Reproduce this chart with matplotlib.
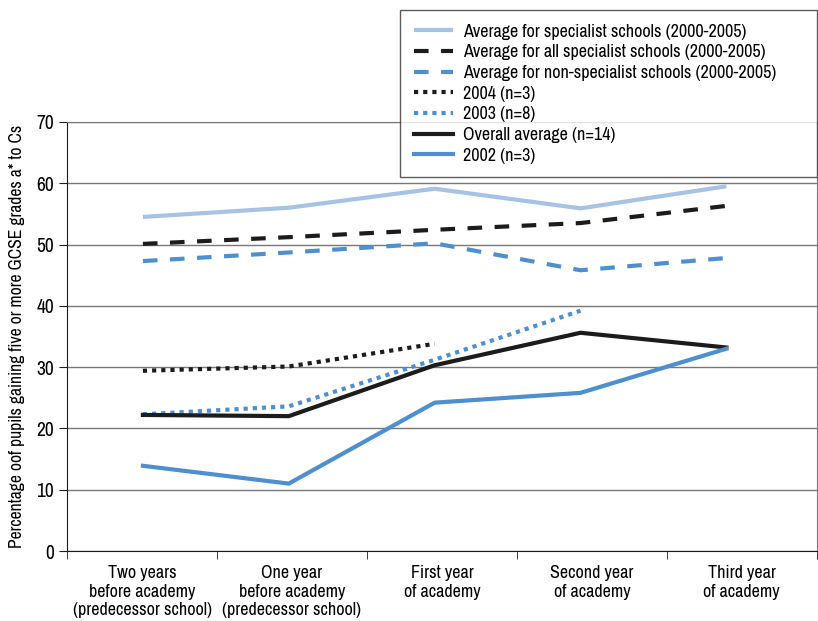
import numpy as np
import matplotlib.pyplot as plt
from matplotlib import font_manager

categories = ["Two years\nbefore academy\n(predecessor school)",
              "One year\nbefore academy\n(predecessor school)",
              "First year\nof academy",
              "Second year\nof academy",
              "Third year\nof academy"]

specialist = [54.5, 56.0, 59.1, 55.9, 59.5]
all_specialist = [50.1, 51.2, 52.4, 53.5, 56.3]
non_specialist = [47.3, 48.7, 50.2, 45.8, 47.8]
y2004 = [29.4, 30.1, 33.8]
y2003 = [22.3, 23.6, 31.2, 39.2]
overall = [22.2, 22.0, 30.3, 35.6, 33.2]
y2002 = [13.9, 11.0, 24.2, 25.8, 33.0]

# look for a narrow face, otherwise shrink DejaVu
narrow = None
for f in font_manager.fontManager.ttflist:
    if "Narrow" in f.name or "Condensed" in f.name:
        narrow = f.name
        break
    if f.name == "DejaVu Sans" and f.stretch == "condensed":
        narrow = "DejaVu Sans"
if narrow:
    plt.rcParams["font.family"] = [narrow, "DejaVu Sans"]
    plt.rcParams["font.stretch"] = "condensed"
    fs = 13
else:
    plt.rcParams["font.family"] = ["DejaVu Sans"]
    fs = 10

light = "#a6c3e6"
blue = "#4e8fd0"
black = "#1c1c1c"

fig = plt.figure(figsize=(8.18, 6.21), dpi=100)
ax = fig.add_axes([0.082, 0.1127, 0.9165, 0.691])

x = list(range(len(categories)))
lw = 3
l1, = ax.plot(x, specialist, color=light, lw=lw, solid_capstyle="butt",
              label="Average for specialist schools (2000-2005)")
l2, = ax.plot(x, all_specialist, color=black, lw=lw, dashes=(3.5, 3),
              label="Average for all specialist schools (2000-2005)")
l3, = ax.plot(x, non_specialist, color=blue, lw=lw, dashes=(3.5, 3),
              label="Average for non-specialist schools (2000-2005)")
l4, = ax.plot(x[:len(y2004)], y2004, color=black, lw=lw, dashes=(1, 1.2),
              label="2004 (n=3)")
l5, = ax.plot(x[:len(y2003)], y2003, color=blue, lw=lw, dashes=(1, 1.2),
              label="2003 (n=8)")
l6, = ax.plot(x, overall, color=black, lw=lw, label="Overall average (n=14)")
l7, = ax.plot(x, y2002, color=blue, lw=lw, label="2002 (n=3)")

xmin, xmax = -0.52, 4.62
ax.set_xlim(xmin, xmax)
ax.set_ylim(0, 70)
ax.set_yticks(range(0, 71, 10))
ax.yaxis.grid(True, color="#777777", lw=1)
ax.set_axisbelow(True)
for s in ["top", "right"]:
    ax.spines[s].set_color("#777777")
ax.spines["left"].set_color(black)
ax.spines["bottom"].set_color(black)

# category slots split the axis evenly; labels sit in the middle of each slot
bounds = np.linspace(xmin, xmax, len(categories) + 1)
ax.set_xticks((bounds[:-1] + bounds[1:]) / 2)
ax.set_xticklabels(categories, fontsize=fs, linespacing=1.2)
ax.tick_params(axis="x", length=0, pad=10)
ax.set_xticks(bounds, minor=True)
ax.tick_params(axis="x", which="minor", length=6, color=black)
ax.tick_params(axis="y", length=6, labelsize=fs + 1, color=black)

ax.set_ylabel("Percentage oof pupils gaining five or more GCSE grades a* to Cs",
              fontsize=fs - 0.3, labelpad=8)

handles = [l1, l2, l3, l4, l5, l6, l7]
leg = fig.legend(handles=handles, loc="upper left", mode="expand",
                 bbox_to_anchor=(400 / 818, 1 - 173 / 621, 417 / 818, 163 / 621),
                 fontsize=fs, frameon=True, fancybox=False, handlelength=2.2,
                 labelspacing=0.26, borderpad=0.75, handletextpad=0.55,
                 borderaxespad=0)
leg.get_frame().set_edgecolor("#333333")
leg.get_frame().set_linewidth(1)

fig.savefig("out.png", dpi=100)
